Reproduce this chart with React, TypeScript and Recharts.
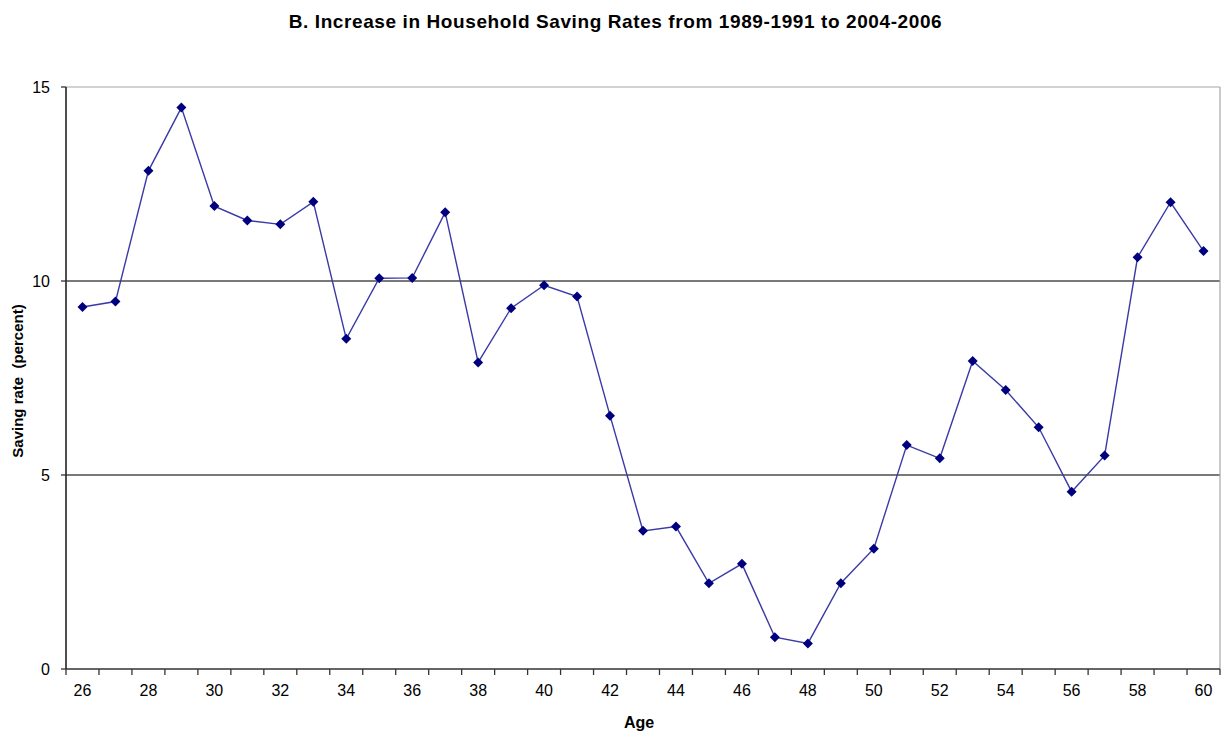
import React from "react";
import { LineChart, Line, XAxis, YAxis, CartesianGrid, ReferenceLine } from "recharts";

const ages = [
    26, 27, 28, 29, 30, 31, 32, 33, 34, 35, 36, 37, 38, 39, 40, 41, 42, 43,
    44, 45, 46, 47, 48, 49, 50, 51, 52, 53, 54, 55, 56, 57, 58, 59, 60,
];
const savingRates = [
    9.33, 9.47, 12.84, 14.47, 11.93, 11.56, 11.46, 12.04, 8.51, 10.07, 10.08, 11.77,
    7.9, 9.3, 9.89, 9.6, 6.53, 3.56, 3.67, 2.21, 2.71, 0.82, 0.66, 2.21, 3.1,
    5.77, 5.43, 7.94, 7.19, 6.23, 4.57, 5.5, 10.61, 12.03, 10.77,
];
const ageLabels = [26, 28, 30, 32, 34, 36, 38, 40, 42, 44, 46, 48, 50, 52, 54, 56, 58, 60];
const rateTicks = [0, 5, 10, 15];

const title = "B. Increase in Household Saving Rates from 1989-1991 to 2004-2006";
const yTitle = "Saving rate  (percent)";
const xTitle = "Age";

const data = ages.map((age, i) => ({ age, rate: savingRates[i] }));
// tick marks sit between categories, Excel-style
const ageEdges = [...ages.map((a) => a - 0.5), ages[ages.length - 1] + 0.5];
const xDomain = [ageEdges[0], ageEdges[ageEdges.length - 1]];

const W = 1221;
const H = 736;
const margin = { top: 87, right: 1, bottom: 27, left: 8 };
const yAxisWidth = 58;
const plotWidth = W - margin.left - margin.right - yAxisWidth;
const halfBand = plotWidth / ages.length / 2;

const font = "'Liberation Sans', Arial, sans-serif";

const Diamond = (props: any) => {
    const { cx, cy } = props;
    if (cx == null || cy == null) return null;
    const r = 5;
    return (
        <polygon
            points={`${cx},${cy - r} ${cx + r},${cy} ${cx},${cy + r} ${cx - r},${cy}`}
            fill="#00007f"
            stroke="none"
        />
    );
};

// ticks are placed on category edges; label the even ages in the middle of their band
const AgeTick = (props: any) => {
    const { x, y, payload } = props;
    const age = payload.value + 0.5;
    if (!ageLabels.includes(age)) return null;
    return (
        <text x={x + halfBand} y={y} dy="0.71em" textAnchor="middle" fill="#000" fontSize={16} fontFamily={font}>
            {age}
        </text>
    );
};

export default function App() {
    return (
        <div style={{ position: "absolute", left: 0, top: 0, width: W, height: H, background: "#fff", fontFamily: font }}>
            <LineChart
                width={W}
                height={H}
                data={data}
                margin={margin}
                style={{ position: "absolute", left: 0, top: 0 }}
            >
                <CartesianGrid horizontal vertical={false} horizontalValues={[5, 10]} stroke="#4d4d4d" strokeWidth={1.3} />
                <ReferenceLine y={15} stroke="#a6a6a6" strokeWidth={1} />
                <XAxis
                    dataKey="age"
                    type="number"
                    domain={xDomain}
                    ticks={ageEdges}
                    tick={<AgeTick />}
                    tickSize={6}
                    tickMargin={10}
                    height={40}
                    interval={0}
                    axisLine={{ stroke: "#333", strokeWidth: 1.5 }}
                    tickLine={{ stroke: "#333", strokeWidth: 1.3 }}
                />
                <YAxis
                    type="number"
                    domain={[0, 15]}
                    ticks={rateTicks}
                    width={yAxisWidth}
                    tickSize={5}
                    tickMargin={11}
                    interval={0}
                    axisLine={{ stroke: "#222", strokeWidth: 1.6 }}
                    tickLine={{ stroke: "#333", strokeWidth: 1.3 }}
                    tick={{ fill: "#000", fontSize: 16, fontFamily: font }}
                />
                <ReferenceLine x={xDomain[1]} stroke="#a6a6a6" strokeWidth={1.2} />
                <Line
                    type="linear"
                    dataKey="rate"
                    stroke="#3a3aa6"
                    strokeWidth={1.4}
                    dot={<Diamond />}
                    activeDot={false}
                    isAnimationActive={false}
                />
            </LineChart>
            <div
                style={{
                    position: "absolute",
                    left: 0,
                    width: 1231,
                    top: 22,
                    transform: "translateY(-50%)",
                    textAlign: "center",
                    fontSize: 19,
                    letterSpacing: 0.6,
                    fontWeight: "bold",
                    color: "#000",
                }}
            >
                {title}
            </div>
            <div
                style={{
                    position: "absolute",
                    left: 17,
                    top: 381,
                    transform: "translate(-50%, -50%) rotate(-90deg)",
                    whiteSpace: "pre",
                    fontSize: 15,
                    fontWeight: "bold",
                    color: "#000",
                }}
            >
                {yTitle}
            </div>
            <div
                style={{
                    position: "absolute",
                    left: 639,
                    top: 723,
                    transform: "translate(-50%, -50%)",
                    fontSize: 16,
                    fontWeight: "bold",
                    color: "#000",
                }}
            >
                {xTitle}
            </div>
        </div>
    );
}
